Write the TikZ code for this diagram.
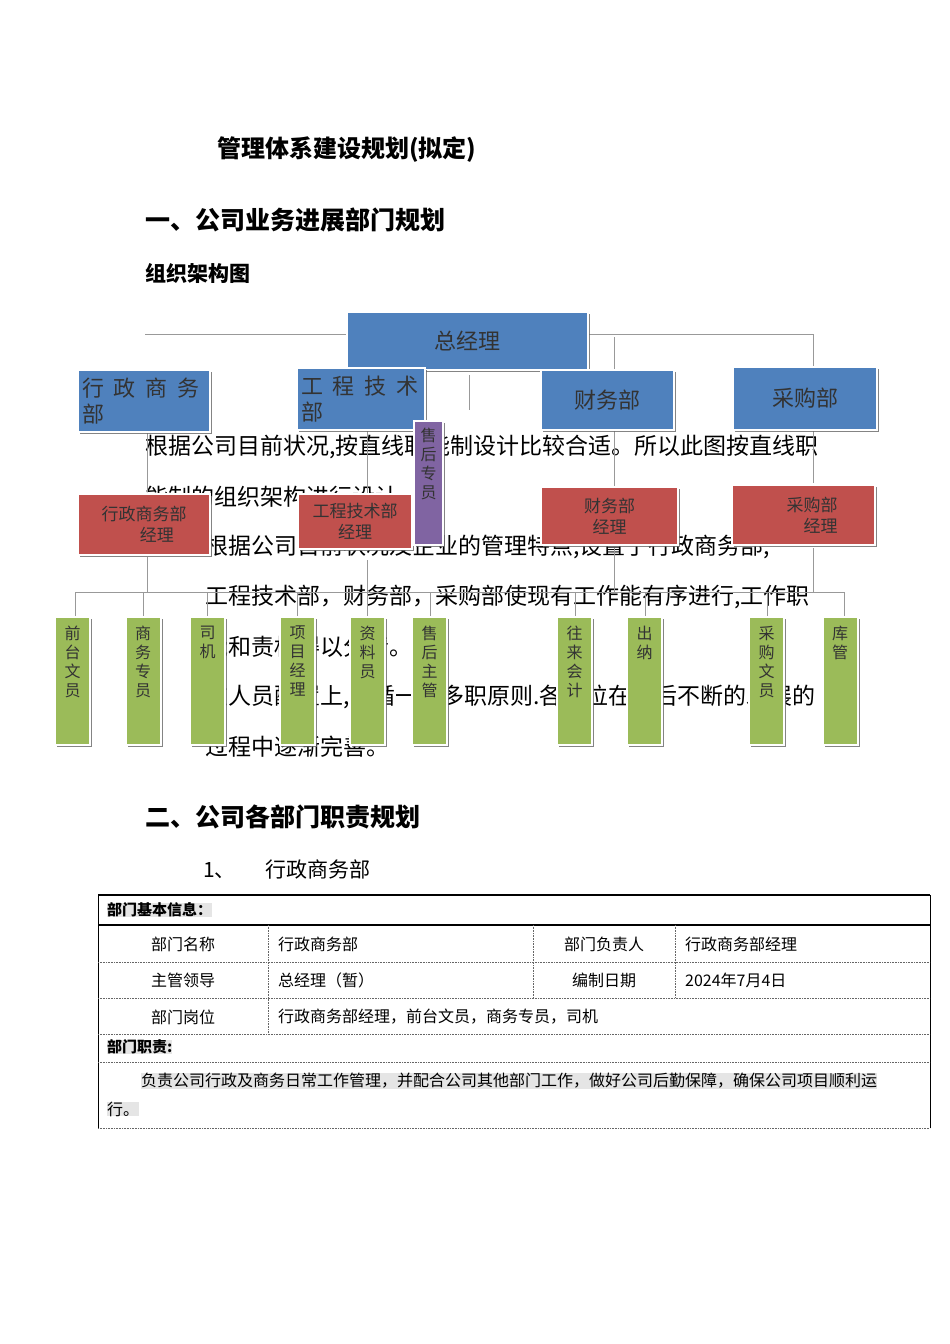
\documentclass[tikz,border=0pt]{standalone}
\usepackage{fontspec}
\setmainfont{Noto Sans CJK SC}
\usetikzlibrary{shadows}
\definecolor{cblue}{HTML}{4F81BD}
\definecolor{cred}{HTML}{C0504D}
\definecolor{cgreen}{HTML}{9BBB59}
\definecolor{cpurple}{HTML}{8064A2}
\tikzset{
 conn/.style={draw=black!40,line width=0.5pt},
 box/.style={draw=white,line width=2pt,inner sep=2pt,text=black!80,drop shadow={shadow xshift=2pt,shadow yshift=-2pt,fill=black!60,opacity=0.8}},
 bluebox/.style={box,fill=cblue,font=\fontsize{22}{24}\selectfont},
 redbox/.style={box,fill=cred,font=\fontsize{17}{21}\selectfont,align=center},
 greenbox/.style={box,fill=cgreen,minimum width=35pt,minimum height=128pt},
 vtext/.style={font=\fontsize{16}{19}\selectfont,align=center,text=black!80,anchor=north,inner sep=0pt},
 body/.style={anchor=west,font=\fontsize{23}{26}\selectfont,inner sep=0pt},
 head/.style={anchor=west,font=\bfseries\fontsize{25}{28}\selectfont,inner sep=0pt},
 cell/.style={font=\fontsize{16}{18}\selectfont,inner sep=0pt},
 dline/.style={draw=black!60,densely dotted,line width=0.6pt}
}
\begin{document}
\begin{tikzpicture}[x=1pt,y=-1pt]
\useasboundingbox[fill=white] (0,0) rectangle (950,1344);
% headings
\node[head,font=\bfseries\fontsize{24}{28}\selectfont] (t0) at (217,150) {管理体系建设规划(拟定)};
\node[head] (t1) at (145,220) {一、公司业务进展部门规划};
\node[head,font=\bfseries\fontsize{21}{24}\selectfont] (t2) at (145,273) {组织架构图};
% body text behind chart
\node[body] (p1) at (145,447) {根据公司目前状况,按直线职能制设计比较合适。所以此图按直线职};
\node[body] (p2) at (145,497) {能制的组织架构进行设计。};
\node[body] (p3) at (205,547) {根据公司目前状况及企业的管理特点,设置了行政商务部,};
\node[body] (p4) at (205,597) {工程技术部，财务部，采购部使现有工作能有序进行,工作职};
\node[body] (p5) at (205,647) {能和责权得以分清。};
\node[body] (p6) at (205,697) {在人员配置上,遵循一人多职原则.各岗位在今后不断的发展的};
\node[body] (p7) at (205,747) {过程中逐渐完善。};
% connectors
\coordinate (bl) at (75,592); \coordinate (br) at (844,592);
\draw[conn] (145,334) -- (813,334) -- (813,483);
\draw[conn] (614,337) -- (614,487);
\draw[conn] (469,375) -- (469,410);
\draw[conn] (147,408) -- (147,492);
\draw[conn] (147,557) -- (147,592);
\draw[conn] (367,410) -- (367,493);
\draw[conn] (367,560) -- (367,592);
\draw[conn] (614,548) -- (614,592);
\draw[conn] (813,548) -- (813,592);
\draw[conn] (bl) -- (br);
\foreach \x in {75,143,207,297,367,430,575,645,767,844}{\draw[conn] (\x,592) -- (\x,617);}
% blue boxes
\node[bluebox,minimum width=241pt,minimum height=58pt] (gm) at (467.5,341) {总经理};
\node[bluebox,minimum width=132pt,minimum height=62pt,text width=124pt,align=left,font=\fontsize{22}{26}\selectfont] (d1) at (144,401) {行\hspace{0.45em}政\hspace{0.45em}商\hspace{0.45em}务\\部};
\node[bluebox,minimum width=128pt,minimum height=62pt,text width=120pt,align=left,font=\fontsize{22}{26}\selectfont] (d2) at (361,399) {工\hspace{0.45em}程\hspace{0.45em}技\hspace{0.45em}术\\部};
\node[bluebox,minimum width=133pt,minimum height=60pt] (d3) at (607.5,400) {财务部};
\node[bluebox,minimum width=144pt,minimum height=63pt] (d4) at (805,398.5) {采购部};
% red boxes
\node[redbox,minimum width=132pt,minimum height=61pt] (m1) at (144,524.5) {行政商务部\\\hspace*{1.5em}经理};
\node[redbox,minimum width=114pt,minimum height=55pt] (m2) at (355,521.5) {工程技术部\\经理};
\node[redbox,minimum width=137pt,minimum height=58pt] (m3) at (609.5,516) {财务部\\经理};
\node[redbox,minimum width=143pt,minimum height=60pt] (m4) at (803.5,515) {\hspace*{1em}采购部\\\hspace*{2em}经理};
% purple
\node[box,fill=cpurple,minimum width=29pt,minimum height=124pt] (sz) at (428.5,483) {};
\node[vtext] (szt) at (sz.north) [yshift=-8pt] {售\\后\\专\\员};
% green boxes
\foreach \n/\x/\t in {g1/72.5/前\\台\\文\\员, g2/143/商\\务\\专\\员, g3/207.5/司\\机, g4/297.5/项\\目\\经\\理, g5/367.5/资\\料\\员, g6/429.5/售\\后\\主\\管, g7/574.5/往\\来\\会\\计, g8/644.5/出\\纳, g9/766.5/采\\购\\文\\员, g10/840/库\\管}{
 \node[greenbox] (\n) at (\x,681) {};
 \node[vtext] (\n t) at ([yshift=-10pt]\n.north) {\t};
}
% section 2
\node[head] (t3) at (145,817) {二、公司各部门职责规划};
\node[body,font=\fontsize{21}{24}\selectfont] (t4) at (203,869) {1、\hspace{1.4em}行政商务部};
% table
\coordinate (tl) at (98,895); \coordinate (tr) at (930,895);
\draw[line width=1.4pt] (tl) -- (tr);
\draw[line width=1.4pt] (98,925) -- (930,925);
\draw[line width=1pt] (tl) -- (98,1128);
\draw[line width=1pt] (tr) -- (930,1128);
\foreach \y in {962,998,1034,1062,1128}{\draw[dline] (98,\y) -- (930,\y);}
\draw[dline] (268,925) -- (268,1034);
\draw[dline] (533,925) -- (533,998);
\draw[dline] (675,925) -- (675,998);
\node[cell,anchor=west,fill=black!10,font=\bfseries\fontsize{15}{17}\selectfont] (h1) at (107,910) {部门基本信息：};
\node[cell] (c11) at (183,944) {部门名称};
\node[cell,anchor=west] (c12) at (278,944) {行政商务部};
\node[cell] (c13) at (604,944) {部门负责人};
\node[cell,anchor=west] (c14) at (685,944) {行政商务部经理};
\node[cell] (c21) at (183,980) {主管领导};
\node[cell,anchor=west] (c22) at (278,980) {总经理（暂）};
\node[cell] (c23) at (604,980) {编制日期};
\node[cell,anchor=west] (c24) at (685,980) {2024年7月4日};
\node[cell] (c31) at (183,1017) {部门岗位};
\node[cell,anchor=west] (c32) at (278,1017) {行政商务部经理，前台文员，商务专员，司机};
\node[cell,anchor=west,fill=black!10,font=\bfseries\fontsize{15}{17}\selectfont] (h2) at (107,1047) {部门职责:};
\node[cell,anchor=west,fill=black!10] (r1) at (141,1081) {负责公司行政及商务日常工作管理，并配合公司其他部门工作，做好公司后勤保障，确保公司项目顺利运};
\node[cell,anchor=west,fill=black!10] (r2) at (107,1109) {行。};
\end{tikzpicture}
\end{document}
